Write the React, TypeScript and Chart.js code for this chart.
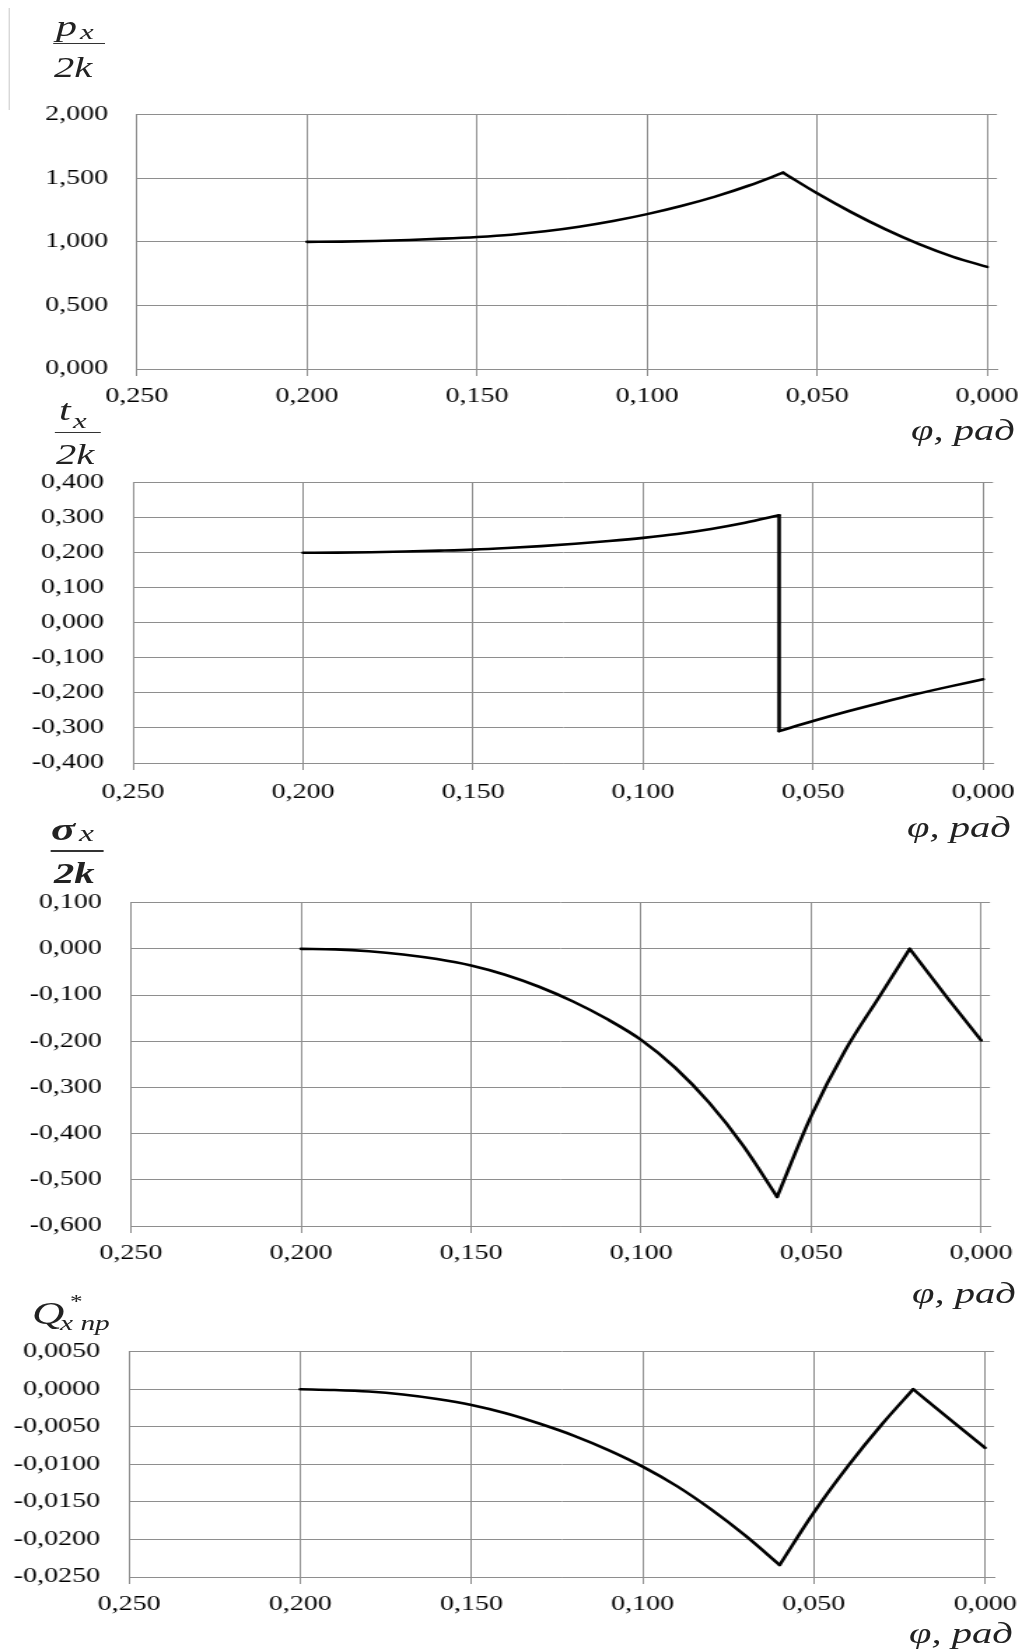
import React, { useEffect, useRef } from 'react';
import { Chart, registerables } from 'chart.js';

Chart.register(...registerables);

// horizontal stretch of the whole figure (the reference is a horizontally stretched picture)
const SX = 1.4;
const CANVAS_W = 760;
const GRID = '#8e8e8e';
const FONT = 'Liberation Serif';

const X_TICKS = [0.25, 0.2, 0.15, 0.1, 0.05, 0];

// Panel 1: p_x / 2k
const PHI_P = [0.2, 0.19, 0.18, 0.17, 0.16, 0.15, 0.14, 0.13, 0.12, 0.11, 0.1, 0.09, 0.08, 0.07, 0.06, 0.05, 0.04, 0.03, 0.02, 0.01, 0];
const P_VALUES = [1.0, 1.002, 1.007, 1.015, 1.025, 1.038, 1.056, 1.083, 1.119, 1.164, 1.218, 1.282, 1.356, 1.443, 1.544, 1.382, 1.234, 1.1, 0.982, 0.882, 0.803];
const P_BREAKS = [14];
const P_Y_TICKS = [0, 0.5, 1, 1.5, 2];

// Panel 2: t_x / 2k
const PHI_T = [0.2, 0.19, 0.18, 0.17, 0.16, 0.15, 0.14, 0.13, 0.12, 0.11, 0.1, 0.09, 0.08, 0.07, 0.06, 0.06, 0.05, 0.04, 0.03, 0.02, 0.01, 0];
const T_VALUES = [0.2, 0.2005, 0.2015, 0.2035, 0.206, 0.209, 0.2135, 0.219, 0.2258, 0.2336, 0.2426, 0.2536, 0.2679, 0.2855, 0.307, -0.309, -0.28, -0.253, -0.228, -0.204, -0.182, -0.161];
const T_BREAKS = [14, 15];
const T_Y_TICKS = [-0.4, -0.3, -0.2, -0.1, 0, 0.1, 0.2, 0.3, 0.4];

// Panel 3: sigma_x / 2k
const PHI_S = [0.2, 0.19, 0.18, 0.17, 0.16, 0.15, 0.14, 0.13, 0.12, 0.11, 0.1, 0.09, 0.08, 0.07, 0.06, 0.05, 0.04, 0.03, 0.021, 0.01, 0];
const S_VALUES = [0, -0.001, -0.005, -0.012, -0.022, -0.036, -0.056, -0.082, -0.114, -0.152, -0.197, -0.257, -0.333, -0.426, -0.537, -0.362, -0.22, -0.104, 0, -0.1055, -0.198];
const S_BREAKS = [14, 18];
const S_Y_TICKS = [-0.6, -0.5, -0.4, -0.3, -0.2, -0.1, 0, 0.1];

// Panel 4: Q*_x пр
const PHI_Q = [0.2, 0.19, 0.18, 0.17, 0.16, 0.15, 0.14, 0.13, 0.12, 0.11, 0.1, 0.09, 0.08, 0.07, 0.06, 0.05, 0.04, 0.03, 0.021, 0.01, 0];
const Q_VALUES = [0, -0.0001, -0.0003, -0.0007, -0.0013, -0.0021, -0.0032, -0.0046, -0.0062, -0.0081, -0.0103, -0.0129, -0.016, -0.0195, -0.0234, -0.0164, -0.0102, -0.0046, 0, -0.0041, -0.0078];
const Q_BREAKS = [14, 18];
const Q_Y_TICKS = [-0.025, -0.02, -0.015, -0.01, -0.005, 0, 0.005];

const fmt = (v: number, d: number) => Number(v).toFixed(d).replace('.', ',');

type PanelCfg = {
  phi: number[];
  values: number[];
  breaks: number[];
  yTicks: number[];
  decimals: number;
  xMin: number;
  plotLeft: number;
  plotRight: number;
  plotTop: number;
  plotBottom: number;
  xPad: number;
};

const PANELS: PanelCfg[] = [
  { phi: PHI_P, values: P_VALUES, breaks: P_BREAKS, yTicks: P_Y_TICKS, decimals: 3, xMin: -0.0029, plotLeft: 137, plotRight: 997, plotTop: 112, plotBottom: 369, xPad: 9 },
  { phi: PHI_T, values: T_VALUES, breaks: T_BREAKS, yTicks: T_Y_TICKS, decimals: 3, xMin: -0.0029, plotLeft: 133, plotRight: 993, plotTop: 480, plotBottom: 763, xPad: 11 },
  { phi: PHI_S, values: S_VALUES, breaks: S_BREAKS, yTicks: S_Y_TICKS, decimals: 3, xMin: -0.0026, plotLeft: 131, plotRight: 990, plotTop: 900, plotBottom: 1226, xPad: 9 },
  { phi: PHI_Q, values: Q_VALUES, breaks: Q_BREAKS, yTicks: Q_Y_TICKS, decimals: 4, xMin: -0.0026, plotLeft: 129, plotRight: 994, plotTop: 1349, plotBottom: 1577, xPad: 9 },
];

const PAD_TOP = 30;
const PAD_BOTTOM = 50;
const X_AXIS_H = 40;

function buildDatasets(cfg: PanelCfg) {
  const cuts = [0, ...cfg.breaks, cfg.phi.length - 1];
  const sets: any[] = [];
  for (let i = 0; i < cuts.length - 1; i++) {
    const pts = [];
    for (let k = cuts[i]; k <= cuts[i + 1]; k++) pts.push({ x: cfg.phi[k], y: cfg.values[k] });
    const straight = pts.length <= 2;
    sets.push({
      data: pts,
      borderColor: '#000',
      borderWidth: 2.6,
      pointRadius: 0,
      fill: false,
      tension: straight ? 0 : 0.4,
      cubicInterpolationMode: straight ? 'default' : 'monotone',
      borderCapStyle: 'round',
      borderJoinStyle: 'round',
    });
  }
  return sets;
}

function ChartPanel({ cfg }: { cfg: PanelCfg }) {
  const ref = useRef<HTMLCanvasElement | null>(null);
  const h = cfg.plotBottom - cfg.plotTop + PAD_TOP + PAD_BOTTOM;
  useEffect(() => {
    if (!ref.current) return;
    const tickFont = { family: FONT, size: 20 };
    const chart = new Chart(ref.current, {
      type: 'line',
      data: { datasets: buildDatasets(cfg) },
      options: {
        animation: false,
        responsive: false,
        devicePixelRatio: 1,
        events: [],
        layout: {
          padding: { top: PAD_TOP, bottom: PAD_BOTTOM - X_AXIS_H, left: 0, right: CANVAS_W - cfg.plotRight / SX },
        },
        plugins: { legend: { display: false }, tooltip: { enabled: false } },
        scales: {
          x: {
            type: 'linear',
            reverse: true,
            min: cfg.xMin,
            max: 0.25,
            afterBuildTicks: (s: any) => {
              s.ticks = X_TICKS.map((v) => ({ value: v }));
            },
            afterFit: (s: any) => {
              s.height = X_AXIS_H;
            },
            ticks: {
              padding: cfg.xPad,
              color: '#000',
              font: tickFont,
              autoSkip: false,
              maxRotation: 0,
              callback: (v: any) => fmt(v, 3),
            },
            grid: { color: GRID, lineWidth: 1, drawTicks: true, tickLength: 7, tickColor: GRID },
            border: { display: true, color: GRID, width: 1 },
          },
          y: {
            type: 'linear',
            min: cfg.yTicks[0],
            max: cfg.yTicks[cfg.yTicks.length - 1],
            afterBuildTicks: (s: any) => {
              s.ticks = cfg.yTicks.map((v) => ({ value: v }));
            },
            afterFit: (s: any) => {
              s.width = cfg.plotLeft / SX;
            },
            ticks: {
              padding: 20.7,
              color: '#000',
              font: tickFont,
              autoSkip: false,
              callback: (v: any) => fmt(v, cfg.decimals),
            },
            grid: { color: GRID, lineWidth: 1, drawTicks: false },
            border: { display: true, color: GRID, width: 1 },
          },
        },
      } as any,
    });
    return () => chart.destroy();
  }, [cfg]);
  return (
    <canvas
      ref={ref}
      width={CANVAS_W}
      height={h}
      style={{ position: 'absolute', left: 0, top: cfg.plotTop - PAD_TOP, width: CANVAS_W, height: h, display: 'block' }}
    />
  );
}

function Txt({ x, base, size, italic, bold, children, color }: any) {
  return (
    <span
      style={{
        position: 'absolute',
        left: x / SX,
        top: base - 0.8375 * size,
        fontFamily: FONT,
        fontSize: size,
        lineHeight: 1,
        fontStyle: italic ? 'italic' : 'normal',
        fontWeight: bold ? 'bold' : 'normal',
        whiteSpace: 'nowrap',
        color: color || '#222',
        zIndex: 2,
      }}
    >
      {children}
    </span>
  );
}

function Bar({ x1, x2, y, thick }: any) {
  return (
    <div
      style={{
        position: 'absolute',
        left: x1 / SX,
        width: (x2 - x1) / SX,
        top: y - thick / 2,
        height: thick,
        background: '#333',
        zIndex: 2,
      }}
    />
  );
}

const AXIS_NAME = 'φ, рад';

export default function App() {
  return (
    <div
      style={{
        position: 'absolute',
        left: 0,
        top: 0,
        width: 1021,
        height: 1649,
        overflow: 'hidden',
        background: '#fff',
      }}
    >
      <div
        style={{
          position: 'absolute',
          left: 0,
          top: 0,
          width: CANVAS_W,
          height: 1649,
          transform: `scaleX(${SX})`,
          transformOrigin: '0 0',
        }}
      >
        {PANELS.map((p, i) => (
          <ChartPanel key={i} cfg={p} />
        ))}

        {/* thin side rule at top-left */}
        <div style={{ position: 'absolute', left: 8 / SX, top: 8, width: 1.5 / SX, height: 102, background: '#cfcfcf' }} />

        {/* Panel 1 title: p_x / 2k */}
        <Txt x={56} base={36} size={30} italic>p</Txt>
        <Txt x={80} base={39} size={22} italic>x</Txt>
        <Bar x1={53} x2={105} y={43.5} thick={1.5} />
        <Txt x={54} base={77} size={29} italic>2k</Txt>
        <Txt x={911} base={440} size={29} italic>{AXIS_NAME}</Txt>

        {/* Panel 2 title: t_x / 2k */}
        <Txt x={59} base={420} size={30} italic>t</Txt>
        <Txt x={73} base={428} size={22} italic>x</Txt>
        <Bar x1={54} x2={101} y={432.7} thick={1.5} />
        <Txt x={56} base={464} size={29} italic>2k</Txt>
        <Txt x={907} base={837} size={29} italic>{AXIS_NAME}</Txt>

        {/* Panel 3 title: sigma_x / 2k (bold) */}
        <Txt x={51} base={840} size={32} italic bold>σ</Txt>
        <Txt x={79} base={841} size={24} italic>x</Txt>
        <Bar x1={50} x2={103} y={850.7} thick={2} />
        <Txt x={54} base={883} size={29} italic bold>2k</Txt>
        <Txt x={912} base={1303} size={29} italic>{AXIS_NAME}</Txt>

        {/* Panel 4 title: Q*_x пр */}
        <Txt x={32} base={1324} size={32} italic>Q</Txt>
        <Txt x={70} base={1308} size={18}>*</Txt>
        <Txt x={60} base={1331} size={21} italic>x пр</Txt>
        <Txt x={909} base={1643} size={29} italic>{AXIS_NAME}</Txt>
      </div>
    </div>
  );
}
